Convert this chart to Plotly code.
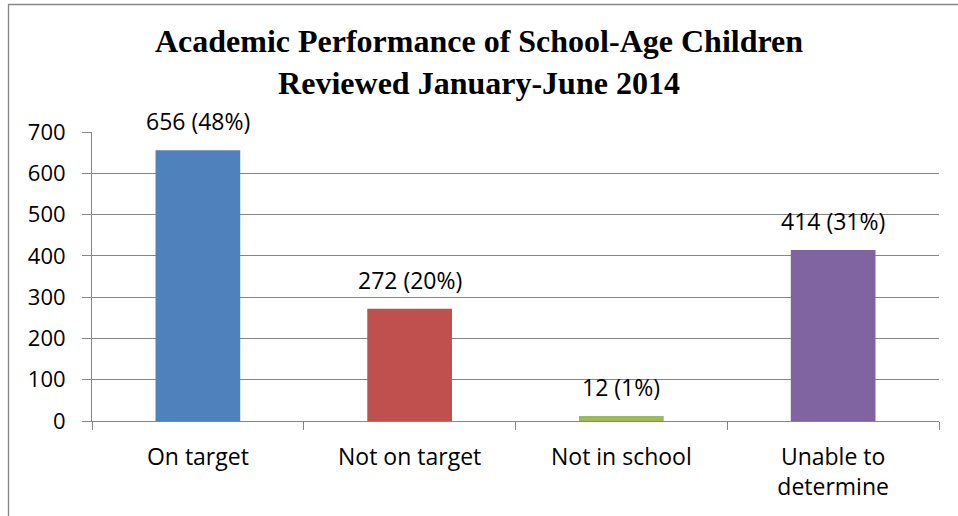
import plotly.graph_objects as go

categories = ["On target", "Not on target", "Not in school", "Unable to<br>determine"]
values = [656, 272, 12, 414]
percents = ["48%", "20%", "1%", "31%"]
colors = ["#4F81BD", "#C0504D", "#9BBB59", "#8064A2"]
y_ticks = [0, 100, 200, 300, 400, 500, 600, 700]

W, H = 958, 516
L, R, T, B = 92, 19, 132, 95
pw, ph = W - L - R, H - T - B

font_lab = "Open Sans, Liberation Sans"

fig = go.Figure()
fig.add_trace(go.Bar(
    x=categories, y=values, marker=dict(color=colors, line=dict(width=0)),
    width=0.4, showlegend=False, hoverinfo="skip",
))

for c, v, p in zip(categories, values, percents):
    fig.add_annotation(x=c, y=v, text=f"{v} ({p})", showarrow=False,
                       yanchor="bottom", yshift=11,
                       font=dict(family=font_lab, size=23, color="#000000"))

gray = "#868686"
# outer chart border
fig.add_shape(type="rect", xref="paper", yref="paper",
              x0=(8.5 - L) / pw, x1=(975 - L) / pw,
              y0=(T + ph - 540) / ph, y1=(T + ph - 4.5) / ph,
              line=dict(color=gray, width=1.3), fillcolor="rgba(0,0,0,0)", layer="below")

fig.update_layout(
    width=W, height=H,
    margin=dict(l=L, r=R, t=T, b=B),
    paper_bgcolor="white", plot_bgcolor="white",
    title=dict(text="<b>Academic Performance of School-Age Children<br>Reviewed January-June 2014</b>",
               x=0.5, xanchor="center", y=1 - 52 / H, yanchor="middle",
               font=dict(family="Liberation Serif, Times New Roman", size=32, color="#000000")),
    bargap=0.6,
    xaxis=dict(showline=True, linecolor=gray, linewidth=1, ticks="outside", tickson="boundaries",
               ticklen=8, tickcolor=gray, showgrid=False, ticklabelstandoff=15,
               tickfont=dict(family=font_lab, size=23, color="#000000")),
    yaxis=dict(range=[0, 700], tickvals=y_ticks, showline=True, linecolor=gray, linewidth=1,
               ticks="outside", ticklen=9, tickcolor=gray, showgrid=True, gridcolor=gray, gridwidth=1,
               zeroline=False, ticklabelstandoff=12,
               tickfont=dict(family=font_lab, size=22, color="#000000")),
)

fig.write_html("out.html", config={"displayModeBar": False},
               post_script="document.body.style.margin='0';document.body.style.overflow='hidden';")
